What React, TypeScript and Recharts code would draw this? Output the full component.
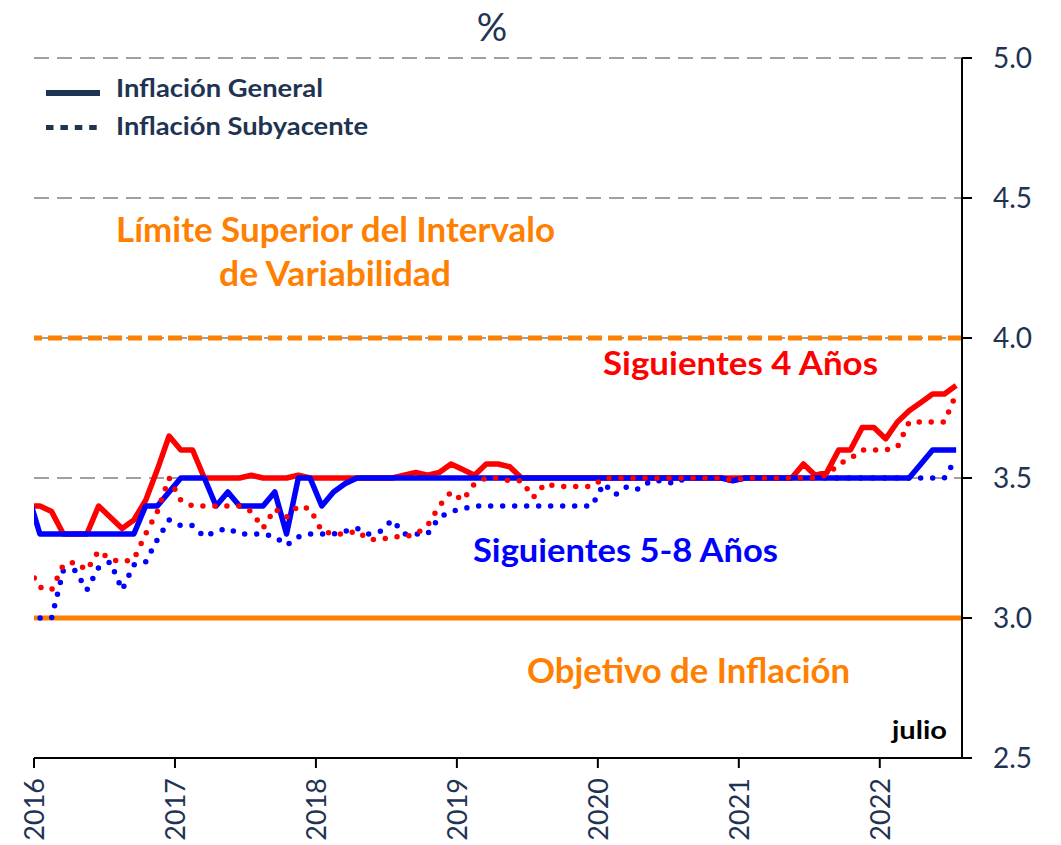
import React from 'react';
import { LineChart, Line, XAxis, YAxis, CartesianGrid, ReferenceLine } from 'recharts';

// meses: dic-2015 .. jul-2022 (punto a mitad de mes)
const months = [
  '2015-12',
  '2016-01', '2016-02', '2016-03', '2016-04', '2016-05', '2016-06', '2016-07', '2016-08', '2016-09', '2016-10', '2016-11', '2016-12',
  '2017-01', '2017-02', '2017-03', '2017-04', '2017-05', '2017-06', '2017-07', '2017-08', '2017-09', '2017-10', '2017-11', '2017-12',
  '2018-01', '2018-02', '2018-03', '2018-04', '2018-05', '2018-06', '2018-07', '2018-08', '2018-09', '2018-10', '2018-11', '2018-12',
  '2019-01', '2019-02', '2019-03', '2019-04', '2019-05', '2019-06', '2019-07', '2019-08', '2019-09', '2019-10', '2019-11', '2019-12',
  '2020-01', '2020-02', '2020-03', '2020-04', '2020-05', '2020-06', '2020-07', '2020-08', '2020-09', '2020-10', '2020-11', '2020-12',
  '2021-01', '2021-02', '2021-03', '2021-04', '2021-05', '2021-06', '2021-07', '2021-08', '2021-09', '2021-10', '2021-11', '2021-12',
  '2022-01', '2022-02', '2022-03', '2022-04', '2022-05', '2022-06', '2022-07',
];

// Siguientes 4 años - inflación general
const general4 = [
  3.40,
  3.40, 3.38, 3.30, 3.30, 3.30, 3.40, 3.36, 3.32, 3.35, 3.42, 3.53, 3.65,
  3.60, 3.60, 3.50, 3.50, 3.50, 3.50, 3.51, 3.50, 3.50, 3.50, 3.51, 3.50,
  3.50, 3.50, 3.50, 3.50, 3.50, 3.50, 3.50, 3.51, 3.52, 3.51, 3.52, 3.55,
  3.53, 3.51, 3.55, 3.55, 3.54, 3.50, 3.50, 3.50, 3.50, 3.50, 3.50, 3.50,
  3.50, 3.50, 3.50, 3.50, 3.50, 3.50, 3.50, 3.50, 3.50, 3.50, 3.50, 3.50,
  3.50, 3.50, 3.50, 3.50, 3.50, 3.55, 3.51, 3.52, 3.60, 3.60, 3.68, 3.68,
  3.64, 3.70, 3.74, 3.77, 3.80, 3.80, 3.83,
];

// Siguientes 4 años - inflación subyacente
const core4 = [
  3.18,
  3.11, 3.10, 3.19, 3.20, 3.17, 3.24, 3.21, 3.20, 3.21, 3.30, 3.38, 3.50,
  3.42, 3.40, 3.40, 3.40, 3.40, 3.40, 3.38, 3.32, 3.39, 3.36, 3.40, 3.39,
  3.31, 3.30, 3.30, 3.31, 3.28, 3.28, 3.29, 3.29, 3.30, 3.33, 3.40, 3.45,
  3.42, 3.48, 3.50, 3.50, 3.49, 3.49, 3.43, 3.48, 3.47, 3.47, 3.47, 3.47,
  3.50, 3.50, 3.50, 3.50, 3.50, 3.50, 3.50, 3.50, 3.50, 3.50, 3.50, 3.49,
  3.50, 3.50, 3.50, 3.50, 3.50, 3.50, 3.50, 3.51, 3.55, 3.57, 3.60, 3.60,
  3.60, 3.61, 3.70, 3.70, 3.70, 3.70, 3.80,
];

// Siguientes 5-8 años - inflación general
const general58 = [
  3.44,
  3.30, 3.30, 3.30, 3.30, 3.30, 3.30, 3.30, 3.30, 3.30, 3.40, 3.40, 3.45,
  3.50, 3.50, 3.50, 3.40, 3.45, 3.40, 3.40, 3.40, 3.45, 3.30, 3.50, 3.50,
  3.40, 3.45, 3.48, 3.50, 3.50, 3.50, 3.50, 3.50, 3.50, 3.50, 3.50, 3.50,
  3.50, 3.50, 3.50, 3.50, 3.50, 3.50, 3.50, 3.50, 3.50, 3.50, 3.50, 3.50,
  3.50, 3.50, 3.50, 3.50, 3.50, 3.50, 3.50, 3.50, 3.50, 3.50, 3.50, 3.49,
  3.50, 3.50, 3.50, 3.50, 3.50, 3.50, 3.50, 3.50, 3.50, 3.50, 3.50, 3.50,
  3.50, 3.50, 3.50, 3.55, 3.60, 3.60, 3.60,
];

// Siguientes 5-8 años - inflación subyacente
const core58 = [
  3.00,
  3.00, 3.00, 3.17, 3.17, 3.10, 3.18, 3.20, 3.10, 3.19, 3.20, 3.28, 3.35,
  3.33, 3.33, 3.29, 3.31, 3.32, 3.30, 3.30, 3.30, 3.29, 3.26, 3.29, 3.30,
  3.30, 3.30, 3.31, 3.32, 3.30, 3.31, 3.35, 3.30, 3.30, 3.30, 3.36, 3.38,
  3.39, 3.40, 3.40, 3.40, 3.40, 3.40, 3.40, 3.40, 3.40, 3.40, 3.40, 3.40,
  3.48, 3.44, 3.47, 3.46, 3.49, 3.49, 3.48, 3.50, 3.50, 3.50, 3.50, 3.49,
  3.50, 3.50, 3.50, 3.50, 3.50, 3.50, 3.50, 3.50, 3.50, 3.50, 3.50, 3.50,
  3.50, 3.50, 3.50, 3.50, 3.50, 3.50, 3.57,
];

const yearTicks = [2016, 2017, 2018, 2019, 2020, 2021, 2022];
const valueTicks = [2.5, 3.0, 3.5, 4.0, 4.5, 5.0];
const targetValue = 3.0;
const upperLimitValue = 4.0;

const RED = '#ff0000';
const BLUE = '#0000ff';
const ORANGE = '#ff8000';
const NAVY = '#1f3352';
const FONT = 'Lato, "Open Sans", sans-serif';

// posición en meses desde ene-2016, centrado a mitad de mes
const toT = (m: string) => {
  const [y, mo] = m.split('-').map(Number);
  return (y - 2016) * 12 + (mo - 1) + 0.5;
};

const rows = months.map((m, i) => ({
  t: toT(m),
  general4: general4[i],
  core4: core4[i],
  general58: general58[i],
  core58: core58[i],
}));

const YearTick = (props: any) => {
  const { x, y, payload } = props;
  const year = 2016 + Math.round(payload.value / 12);
  return (
    <text
      transform={`translate(${x + 10},${y + 8}) rotate(-90)`}
      textAnchor="end"
      fontFamily={FONT}
      fontSize={27}
      fill={NAVY}
    >
      {year}
    </text>
  );
};

function Overlay() {
  const bold = { fontFamily: FONT, fontWeight: 700 } as const;
  return (
    <svg
      width={1061}
      height={845}
      style={{ position: 'absolute', left: 0, top: 0, pointerEvents: 'none' }}
    >
      <text x={492} y={41} textAnchor="middle" fontFamily={FONT} fontSize={38} fill={NAVY}>%</text>

      {/* leyenda */}
      <line x1={46} x2={100} y1={93} y2={93} stroke={NAVY} strokeWidth={6} />
      <text x={116} y={97} {...bold} fontSize={25} fill={NAVY} textLength={207} lengthAdjust="spacingAndGlyphs">Inflación General</text>
      <line x1={46} x2={100} y1={127.5} y2={127.5} stroke={NAVY} strokeWidth={5} strokeDasharray="7.5 6.9" />
      <text x={116} y={135} {...bold} fontSize={25} fill={NAVY} textLength={252} lengthAdjust="spacingAndGlyphs">Inflación Subyacente</text>

      <text x={116} y={242} {...bold} fontSize={34} fill={ORANGE} textLength={439} lengthAdjust="spacingAndGlyphs">Límite Superior del Intervalo</text>
      <text x={219} y={286} {...bold} fontSize={34} fill={ORANGE} textLength={232} lengthAdjust="spacingAndGlyphs">de Variabilidad</text>
      <text x={603} y={375} {...bold} fontSize={33} fill={RED} textLength={275} lengthAdjust="spacingAndGlyphs">Siguientes 4 Años</text>
      <text x={473} y={562} {...bold} fontSize={33} fill={BLUE} textLength={305} lengthAdjust="spacingAndGlyphs">Siguientes 5-8 Años</text>
      <text x={527} y={683} {...bold} fontSize={34} fill={ORANGE} textLength={323} lengthAdjust="spacingAndGlyphs">Objetivo de Inflación</text>
      <text x={892} y={739} {...bold} fontSize={24} fill="#000" textLength={55} lengthAdjust="spacingAndGlyphs">julio</text>
    </svg>
  );
}

export default function App() {
  return (
    <div style={{ position: 'absolute', left: 0, top: 0, width: 1061, height: 845, background: '#fff' }}>
      <LineChart
        width={1061}
        height={845}
        data={rows}
        margin={{ top: 58, right: 9, bottom: 7, left: 34 }}
      >
        <CartesianGrid
          vertical={false}
          stroke="#a0a0a0"
          strokeWidth={2}
          strokeDasharray="15 8"
        />
        <XAxis
          type="number"
          dataKey="t"
          domain={[0, 79]}
          allowDataOverflow
          ticks={yearTicks.map((y) => (y - 2016) * 12)}
          interval={0}
          height={80}
          tickSize={10}
          tickLine={{ stroke: '#000', strokeWidth: 2 }}
          axisLine={{ stroke: '#000', strokeWidth: 2 }}
          tick={<YearTick />}
        />
        <YAxis
          orientation="right"
          domain={[2.5, 5]}
          ticks={valueTicks}
          allowDataOverflow
          width={90}
          tickSize={10}
          tickMargin={21}
          tickLine={{ stroke: '#000', strokeWidth: 2 }}
          axisLine={{ stroke: '#000', strokeWidth: 2 }}
          tickFormatter={(v: number) => v.toFixed(1)}
          tick={{ fill: NAVY, fontSize: 28, fontFamily: FONT }}
        />
        <ReferenceLine y={upperLimitValue} stroke={ORANGE} strokeWidth={5} strokeDasharray="14 6" />
        <ReferenceLine y={targetValue} stroke={ORANGE} strokeWidth={5} />
        <Line type="linear" dataKey="general4" stroke={RED} strokeWidth={5.5} dot={false} strokeLinejoin="round" isAnimationActive={false} />
        <Line type="linear" dataKey="general58" stroke={BLUE} strokeWidth={5.5} dot={false} strokeLinejoin="round" isAnimationActive={false} />
        <Line type="linear" dataKey="core58" stroke={BLUE} strokeWidth={5.5} strokeDasharray="0 12" strokeLinecap="round" dot={false} isAnimationActive={false} />
        <Line type="linear" dataKey="core4" stroke={RED} strokeWidth={5.5} strokeDasharray="0 12" strokeLinecap="round" dot={false} isAnimationActive={false} />
      </LineChart>
      <Overlay />
    </div>
  );
}
